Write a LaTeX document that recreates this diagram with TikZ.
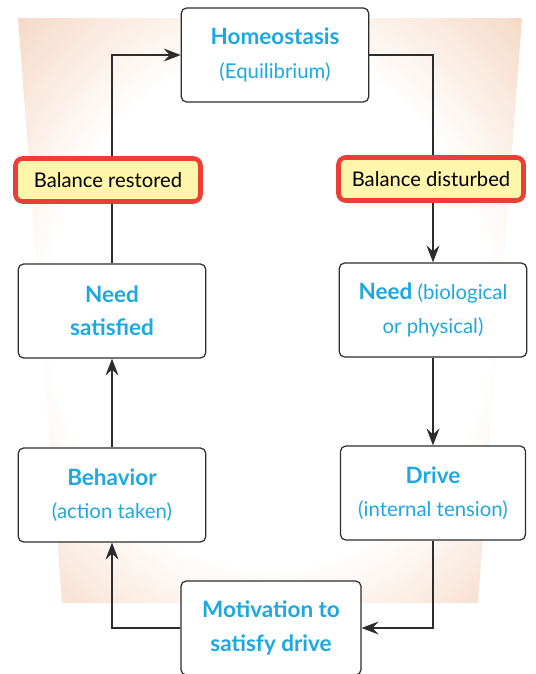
\documentclass[tikz,border=0pt]{standalone}
\usepackage{fontspec}
\setmainfont{Lato}
\usetikzlibrary{arrows.meta}

\definecolor{cyantext}{RGB}{30,168,226}
\definecolor{peach}{RGB}{241,198,168}
\definecolor{balfill}{RGB}{255,246,172}
\definecolor{balred}{RGB}{236,62,52}
\definecolor{linegray}{RGB}{45,45,45}
\pgfdeclareradialshading{glow}{\pgfpoint{0bp}{0bp}}{color(0bp)=(white); color(22bp)=(white); color(42bp)=(peach); color(50bp)=(peach)}
\newcommand{\hd}[1]{{\fontsize{12.8}{19}\selectfont\bfseries #1}}

\tikzset{
  box/.style={draw=linegray, line width=0.7pt, fill=white, rounded corners=3pt,
    minimum width=3.75cm, minimum height=1.88cm, align=center, text=cyantext,
    font=\fontsize{11.6}{19}\selectfont},
  balance/.style={draw=balred, line width=2.6pt, fill=balfill, rounded corners=4pt,
    minimum width=3.7cm, minimum height=0.86cm, text=black,
    font=\fontsize{11.5}{13}\selectfont},
  link/.style={draw=linegray, line width=0.75pt},
  arrow/.style={link, -{Stealth[length=3.4mm, width=2.6mm, inset=1.2mm]}}
}

\begin{document}
\begin{tikzpicture}[x=0.02cm, y=-0.02cm]
\useasboundingbox (0,0) rectangle (536,674);
\shade[shading=glow] (18,18) -- (522,18) -- (478,603) -- (62,603) -- cycle;

\node[box] (homeo) at (275,55) {\hd{Homeostasis}\\(Equilibrium)};
\node[balance] (restored) at (108,180) {Balance restored};
\node[balance] (disturbed) at (431,179) {Balance disturbed};
\node[box] (satisfied) at (112,311) {\hd{Need}\\\hd{satisfied}};
\node[box] (need) at (433,310) {\hd{Need} (biological\\or physical)};
\node[box] (behavior) at (112,495) {\hd{Behavior}\\(action taken)};
\node[box, minimum width=3.7cm] (drive) at (433,493) {\hd{Drive}\\(internal tension)};
\node[box, minimum width=3.6cm] (motiv) at (271,628) {\hd{Motivation to}\\\hd{satisfy drive}};

\draw[link] (homeo.east) -| (need.north |- disturbed.north);
\draw[arrow] (need.north |- disturbed.south) -- (need.north);
\draw[arrow] (need) -- (drive);
\draw[arrow] (drive.south) |- (motiv.east);
\draw[arrow] (motiv.west) -| (behavior.south);
\draw[arrow] (behavior) -- (satisfied);
\draw[link] (satisfied.north) -- (satisfied.north |- restored.south);
\draw[arrow] (satisfied.north |- restored.north) |- (homeo.west);
\end{tikzpicture}
\end{document}
